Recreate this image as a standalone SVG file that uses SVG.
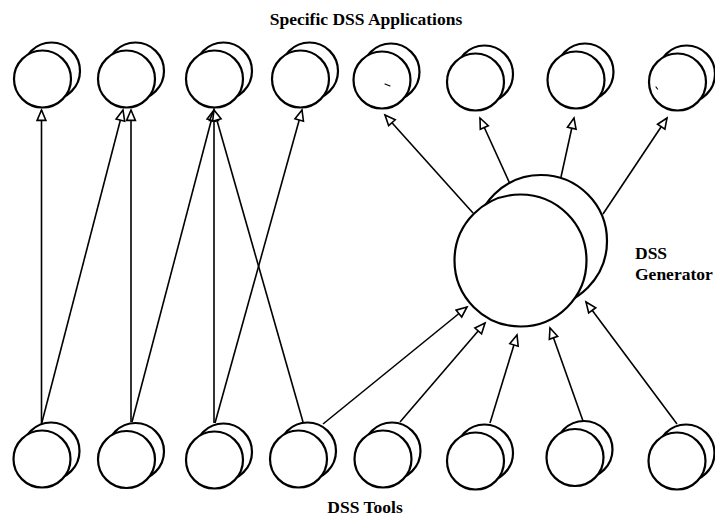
<svg xmlns="http://www.w3.org/2000/svg" xmlns:xlink="http://www.w3.org/1999/xlink" width="715" height="518" viewBox="0 0 715 518">
  <style>
    .ring { fill: #fff; stroke: #000; stroke-width: 2.2; }
    .link { fill: none; stroke: #000; stroke-width: 1.6; marker-end: url(#head); }
    .label { font-family: "Liberation Serif", "Times New Roman", serif; font-weight: bold; font-size: 17.5px; fill: #000; }
    .speck { fill: none; stroke: #000; stroke-width: 1.2; stroke-linecap: round; }
  </style>
  <defs>
    <!-- open triangular arrowhead -->
    <marker id="head" markerUnits="userSpaceOnUse" markerWidth="13" markerHeight="11" refX="11" refY="5" orient="auto" overflow="visible">
      <path d="M0.6,0.6 L11,5 L0.6,9.4 Z" fill="#fff" stroke="#000" stroke-width="1.6"/>
    </marker>
    <!-- a pair of overlapping circles: rear one offset up and to the right -->
    <g id="pair">
      <circle class="ring" cx="9" cy="-8" r="28.5"/>
      <circle class="ring" cx="0" cy="0" r="28.5"/>
    </g>
  </defs>

  <rect width="715" height="518" fill="#fff"/>

  <!-- connectors -->
  <g id="connectors">
    <!-- tools to specific applications -->
    <line class="link" x1="41.5" y1="424" x2="41.5" y2="110"/>
    <line class="link" x1="41.5" y1="424" x2="123" y2="110"/>
    <line class="link" x1="131" y1="422" x2="131" y2="110"/>
    <line class="link" x1="132" y1="422" x2="214" y2="110"/>
    <line class="link" x1="214" y1="423" x2="214" y2="110"/>
    <line class="link" x1="215" y1="423" x2="302" y2="110"/>
    <line class="link" x1="303" y1="422" x2="214" y2="110"/>
    <!-- tools to generator -->
    <line class="link" x1="323" y1="424" x2="467" y2="307"/>
    <line class="link" x1="400" y1="422" x2="485" y2="323"/>
    <line class="link" x1="490" y1="423" x2="517" y2="335"/>
    <line class="link" x1="583" y1="421" x2="550" y2="328"/>
    <line class="link" x1="677" y1="424" x2="586" y2="302"/>
    <!-- generator to specific applications -->
    <line class="link" x1="473" y1="213" x2="385" y2="115"/>
    <line class="link" x1="510" y1="184" x2="480" y2="118"/>
    <line class="link" x1="561" y1="177" x2="574" y2="118"/>
    <line class="link" x1="603" y1="214" x2="667" y2="118"/>
  </g>

  <!-- specific DSS applications -->
  <g id="app-1"><use xlink:href="#pair" x="42.5" y="79"/></g>
  <g id="app-2"><use xlink:href="#pair" x="126.5" y="79"/></g>
  <g id="app-3"><use xlink:href="#pair" x="214.5" y="79"/></g>
  <g id="app-4"><use xlink:href="#pair" x="300.5" y="79"/></g>
  <g id="app-5"><use xlink:href="#pair" x="382" y="80"/><path class="speck" d="M385,84 L390,86"/></g>
  <g id="app-6"><use xlink:href="#pair" x="475.5" y="82"/></g>
  <g id="app-7"><use xlink:href="#pair" x="576" y="80"/></g>
  <g id="app-8"><use xlink:href="#pair" x="677.5" y="82"/><path class="speck" d="M656,87 L657.5,89"/></g>

  <!-- DSS tools -->
  <g id="tool-1"><use xlink:href="#pair" x="42" y="459"/></g>
  <g id="tool-2"><use xlink:href="#pair" x="126.5" y="459.5"/></g>
  <g id="tool-3"><use xlink:href="#pair" x="214.5" y="460"/></g>
  <g id="tool-4"><use xlink:href="#pair" x="298.5" y="459"/></g>
  <g id="tool-5"><use xlink:href="#pair" x="383" y="459"/></g>
  <g id="tool-6"><use xlink:href="#pair" x="475.5" y="461"/></g>
  <g id="tool-7"><use xlink:href="#pair" x="575" y="457.5"/></g>
  <g id="tool-8"><use xlink:href="#pair" x="677" y="461"/></g>

  <!-- DSS generator -->
  <g id="generator">
    <circle class="ring" cx="541" cy="241" r="66"/>
    <circle class="ring" cx="520.5" cy="260.5" r="66"/>
  </g>

  <!-- labels -->
  <g id="labels">
    <text class="label" x="366" y="25" text-anchor="middle">Specific DSS Applications</text>
    <text class="label" x="365" y="513" text-anchor="middle">DSS Tools</text>
    <text class="label" x="635" y="259">DSS</text>
    <text class="label" x="635" y="280">Generator</text>
  </g>
</svg>
